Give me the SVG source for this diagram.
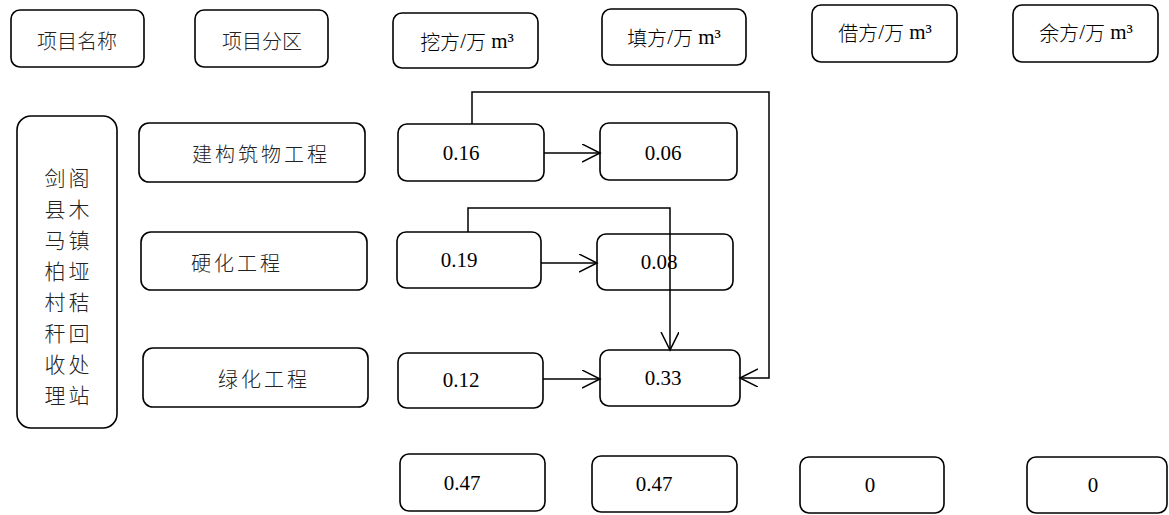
<svg xmlns="http://www.w3.org/2000/svg" width="1169" height="515" viewBox="0 0 1169 515">
<style>
.b{fill:#fff;stroke:#000;stroke-width:1.6}
.t{font-size:21px;fill:#000;text-anchor:middle;dominant-baseline:central}
.cj{font-size:20px;font-weight:300}
.c{font-size:20px;fill:#222;text-anchor:middle;dominant-baseline:central;font-weight:300}
.ls{letter-spacing:3px}
.n{font-size:21px;fill:#000;text-anchor:middle;dominant-baseline:central}
.k{fill:none;stroke:#000;stroke-width:1.5}
</style>
<defs>
<marker id="ah" markerUnits="userSpaceOnUse" markerWidth="20" markerHeight="20" refX="18" refY="9" orient="auto">
<path d="M0,0 L18,9 L0,18" fill="none" stroke="#000" stroke-width="1.5"/>
</marker>
</defs>
<g font-family="Noto Sans CJK SC, sans-serif">
<g id="h1"><rect class="b" x="11" y="10" width="133" height="57" rx="9"/><text class="c" x="77" y="40">项目名称</text></g>
<g id="h2"><rect class="b" x="195" y="10" width="133" height="57" rx="9"/><text class="c" x="262" y="40">项目分区</text></g>
</g>
<g font-family="Liberation Serif, serif">
<g id="h3"><rect class="b" x="393" y="13" width="145" height="55" rx="9"/><text class="t" x="467" y="41"><tspan class="cj" font-family="Noto Sans CJK SC">挖方</tspan>/<tspan class="cj" font-family="Noto Sans CJK SC">万</tspan> m³</text></g>
<g id="h4"><rect class="b" x="602" y="9" width="144" height="56" rx="9"/><text class="t" x="674" y="37"><tspan class="cj" font-family="Noto Sans CJK SC">填方</tspan>/<tspan class="cj" font-family="Noto Sans CJK SC">万</tspan> m³</text></g>
<g id="h5"><rect class="b" x="812" y="5" width="145" height="57" rx="9"/><text class="t" x="885" y="32"><tspan class="cj" font-family="Noto Sans CJK SC">借方</tspan>/<tspan class="cj" font-family="Noto Sans CJK SC">万</tspan> m³</text></g>
<g id="h6"><rect class="b" x="1013" y="5" width="145" height="57" rx="9"/><text class="t" x="1086" y="32"><tspan class="cj" font-family="Noto Sans CJK SC">余方</tspan>/<tspan class="cj" font-family="Noto Sans CJK SC">万</tspan> m³</text></g>
</g>
<g font-family="Noto Sans CJK SC, sans-serif">
<g id="site"><rect class="b" x="17" y="116" width="100" height="312" rx="14"/>
<g class="c" style="font-size:21px">
<text x="55" y="177">剑</text><text x="79" y="177">阁</text>
<text x="55" y="208">县</text><text x="79" y="208">木</text>
<text x="55" y="239">马</text><text x="79" y="239">镇</text>
<text x="55" y="270">柏</text><text x="79" y="270">垭</text>
<text x="55" y="301">村</text><text x="79" y="301">秸</text>
<text x="55" y="332">秆</text><text x="79" y="332">回</text>
<text x="55" y="363">收</text><text x="79" y="363">处</text>
<text x="55" y="394">理</text><text x="79" y="394">站</text>
</g></g>
<g id="p1"><rect class="b" x="139" y="123" width="226" height="59" rx="10"/><text class="c ls" x="261" y="153">建构筑物工程</text></g>
<g id="p2"><rect class="b" x="141" y="232" width="226" height="58" rx="10"/><text class="c ls" x="237" y="262">硬化工程</text></g>
<g id="p3"><rect class="b" x="143" y="348" width="225" height="59" rx="10"/><text class="c ls" x="264" y="378">绿化工程</text></g>
</g>
<g font-family="Liberation Serif, serif">
<g id="w1"><rect class="b" x="398" y="124" width="146" height="57" rx="9"/><text class="n" x="461" y="153">0.16</text></g>
<g id="f1"><rect class="b" x="600" y="123" width="137" height="57" rx="9"/><text class="n" x="663" y="153">0.06</text></g>
<g id="w2"><rect class="b" x="397" y="232" width="144" height="56" rx="9"/><text class="n" x="459" y="260">0.19</text></g>
<g id="f2"><rect class="b" x="597" y="234" width="136" height="56" rx="9"/><text class="n" x="659" y="262">0.08</text></g>
<g id="w3"><rect class="b" x="398" y="353" width="145" height="55" rx="9"/><text class="n" x="461" y="380">0.12</text></g>
<g id="f3"><rect class="b" x="600" y="350" width="140" height="56" rx="9"/><text class="n" x="663" y="378">0.33</text></g>
<g id="s1"><rect class="b" x="400" y="454" width="145" height="57" rx="9"/><text class="n" x="462" y="483">0.47</text></g>
<g id="s2"><rect class="b" x="592" y="456" width="145" height="56" rx="9"/><text class="n" x="654" y="484">0.47</text></g>
<g id="s3"><rect class="b" x="800" y="457" width="144" height="56" rx="9"/><text class="n" x="870" y="485">0</text></g>
<g id="s4"><rect class="b" x="1027" y="457" width="140" height="56" rx="9"/><text class="n" x="1093" y="485">0</text></g>
</g>
<g id="connectors">
<path class="k" d="M544,153 H600" marker-end="url(#ah)"/>
<path class="k" d="M541,263 H597" marker-end="url(#ah)"/>
<path class="k" d="M543,379 H600" marker-end="url(#ah)"/>
<path class="k" d="M472,124 V92 H769 V378 H740" marker-end="url(#ah)"/>
<path class="k" d="M468,232 V208 H670 V350" marker-end="url(#ah)"/>
</g>
</svg>
